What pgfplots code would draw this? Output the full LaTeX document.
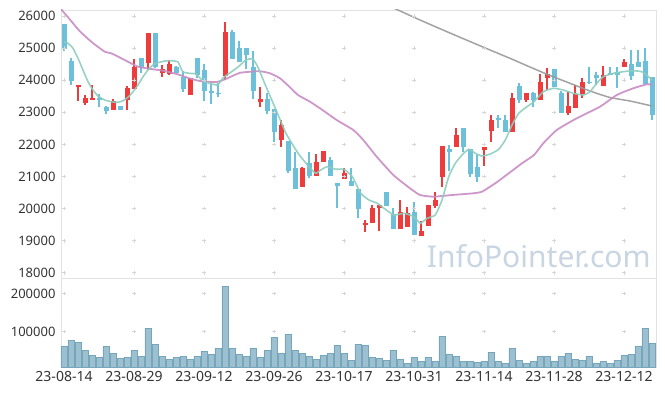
\documentclass[border=0pt]{standalone}
\usepackage{fontspec}
\setmainfont{Noto Sans}
\usepackage{pgfplots}
\usepackage{pgfplotstable}
\pgfplotsset{compat=1.18}
\definecolor{upc}{HTML}{EE3B3B}
\definecolor{dnc}{HTML}{6CC0DA}
\definecolor{ma5}{HTML}{8CCDBE}
\definecolor{ma20}{HTML}{C88CC3}
\definecolor{ma60}{HTML}{999999}
\definecolor{volf}{HTML}{9DC0D0}
\definecolor{vole}{HTML}{76A6BB}
\definecolor{gridc}{HTML}{E2E2E2}
\definecolor{plusc}{HTML}{D6D6D6}
\definecolor{labc}{HTML}{333333}
\definecolor{wm}{HTML}{C8D5E2}

% up candles (close >= open)
\pgfplotstableread{
i o h l c
2 23798 23841 23352 23841
3 23299 23549 23237 23446
4 23393 23841 23393 23446
7 23081 23405 23081 23362
9 23393 23819 23063 23748
10 23736 24651 23736 24402
12 24545 25461 24318 25461
14 24234 24464 24090 24349
15 24184 24629 24150 24514
18 23549 24078 23549 24078
23 24140 25813 24006 25502
28 23312 23798 23175 23415
31 22147 22760 21910 22595
34 20683 21306 20683 21256
36 21025 21692 21025 21443
37 21443 21795 21443 21795
40 20932 21256 20932 21110
43 19499 19645 19272 19543
44 19543 20113 19543 20010
45 20010 20110 19303 20103
48 19356 20268 19356 19885
49 19437 20041 19437 19854
51 19156 19614 19156 19303
52 19468 20113 19468 20113
53 20081 20527 20010 20268
54 20994 21950 20683 21950
56 21929 22502 21929 22293
60 21826 21910 21328 21910
61 22427 22916 22085 22760
64 22396 23592 22396 23436
66 23383 23592 23330 23592
68 23383 24184 23383 23953
69 24078 24371 23695 24193
72 22988 23642 22916 23196
73 23144 23851 23144 23561
74 23561 24078 23436 23935
77 23829 24443 23829 24162
80 24402 24661 24402 24558
}\up

% down candles (close < open)
\pgfplotstableread{
i o h l c
0 25751 25751 24910 24972
1 24598 24682 23851 23985
5 23446 23561 23175 23393
6 23165 23187 22938 23050
8 23187 23210 23060 23081
11 24682 24682 24215 24402
13 25461 25461 24380 24400
16 24421 24450 24234 24234
17 24109 24287 23642 23726
19 24692 24692 24059 24162
20 24318 24505 23352 23664
21 23664 23882 23249 23592
22 23600 23904 23467 23590
24 25502 25564 24661 24661
25 25003 25231 24576 24576
26 25003 25003 24340 24795
27 24411 24900 23405 23673
29 23415 23592 22947 23050
30 23103 23103 22085 22396
32 22106 22106 21100 21181
33 21265 21773 20620 20620
35 21412 21773 20944 21025
38 21514 21598 21025 21025
39 20798 20798 20010 20695
41 20860 21275 20695 20695
42 20602 20602 19698 19979
46 20518 20518 20080 20080
47 19842 20010 19356 19356
50 19894 20215 19178 19178
55 21857 21982 21172 21754
57 22502 22502 21773 21929
58 21847 21847 20994 21069
59 21287 21670 20838 20994
62 22832 22916 22502 22751
63 22760 22916 22396 22396
65 23820 23904 23299 23383
67 23592 23642 23180 23383
70 24349 24349 23798 23798
71 23611 23664 22988 22988
75 23950 24402 23882 23930
76 24162 24265 23851 24078
78 24215 24402 24150 24184
79 24246 24402 23748 24162
81 24505 24941 24006 24140
82 24558 24941 24402 24402
83 24598 24994 23873 23873
84 24090 24090 22760 22916
}\down

\pgfplotstableread{
i v
0 25199
0.57 25150
1.29 24994
2 24682
2.71 24318
3.43 23953
4.14 23695
4.86 23508
5.81 23383
6.76 23330
7.71 23312
8.43 23362
9.14 23467
9.86 23642
10.57 23851
11.29 24109
12 24318
12.71 24474
13.43 24545
14.39 24598
15.33 24608
16.29 24567
16.96 24265
17.9 24215
18.86 24193
19.81 23985
20.76 23904
21.96 23851
22.67 24059
23.61 24215
24.81 24402
26 24629
26.96 24661
27.67 24421
28.86 23798
30.29 23072
31.71 22346
33.14 21826
33.81 21617
35 21306
35.96 21100
36.67 21203
37.61 21306
38.81 21225
40 21225
41.19 20994
42.39 20477
43.57 20268
44.76 20166
45.71 20010
47.14 19801
48.57 19854
50 19748
50.9 19542
51.86 19698
53.04 19801
54 20268
54.96 20994
55.9 21412
56.86 21670
57.81 21848
58.76 21723
59.71 21639
60.9 21701
62.1 21848
63.04 22137
64 22605
64.96 22969
66.14 23175
67.14 23330
68.47 23642
69.9 23748
71.33 23695
72.76 23592
74.19 23539
75.14 23642
76.1 23904
77.04 24109
78.47 24215
79.9 24265
81.33 24296
82.53 24265
83.24 24162
83.96 24006
}\maA

\pgfplotstableread{
i v
-0.43 26215
0.5 25980
2.2 25540
3.9 25199
5.81 24888
6.76 24838
8.67 24629
10.57 24421
12.47 24349
14.39 24287
16.29 24180
17.9 24059
19.43 23975
21.71 23940
23.14 24040
25.14 24230
27.9 24280
29.43 24215
30.86 24059
32.19 23798
33.43 23539
35.14 23330
36.57 23125
38.96 22760
41.33 22449
42.76 22137
44.67 21617
47.04 21047
49.43 20633
50.86 20424
52.76 20371
55.43 20424
58.47 20477
59.71 20527
61.61 20789
63.53 21100
65.43 21412
67.14 21670
68.47 22035
70.39 22449
73.24 22813
76.57 23175
78.96 23539
81.33 23748
83.24 23872
84 23860
}\maB

\pgfplotstableread{
i v
45.86 26374
47.71 26187
50.86 25875
55.14 25470
60.86 24941
63.71 24682
66.57 24411
69.43 24147
72.29 23904
75.14 23664
78 23461
80.86 23352
84 23197
}\maC

\pgfplotstableread{
i v
0 61900
1 77500
2 72300
3 51400
4 38400
5 33200
6 61900
7 43600
8 30500
9 33200
10 51400
11 35800
12 108900
13 67100
14 35800
15 27900
16 33200
17 35800
18 27900
19 35800
20 48800
21 41000
22 56700
23 218500
24 56700
25 41000
26 35800
27 56700
28 33200
29 51400
30 85400
31 43600
32 93200
33 51400
34 43600
35 35800
36 27900
37 38400
38 43600
39 64500
40 43600
41 25300
42 67100
43 64500
44 33200
45 30500
46 25300
47 51400
48 27900
49 17500
50 33200
51 22700
52 33200
53 22700
54 88000
55 41000
56 35800
57 22700
58 22700
59 20100
60 22700
61 46200
62 22700
63 17500
64 56700
65 25300
66 17500
67 22700
68 35800
69 35800
70 22700
71 35800
72 43600
73 27900
74 25300
75 35800
76 17500
77 22700
78 17500
79 25300
80 38400
81 41000
82 61900
83 108900
84 69700
}\vol

\begin{document}
\begin{tikzpicture}
\useasboundingbox (-61pt,-118pt) rectangle (604pt,278pt);
\begin{axis}[
  at={(0pt,0pt)}, anchor=south west, scale only axis,
  width=595pt, height=268pt,
  xmin=-0.43, xmax=84.57, ymin=17839, ymax=26187,
  xtick=\empty,
  scaled y ticks=false,
  ytick={18000,19000,20000,21000,22000,23000,24000,25000,26000},
  yticklabels={18000,19000,20000,21000,22000,23000,24000,25000,26000},
  yticklabel style={font=\fontsize{13}{15}\selectfont, text=labc, xshift=-2pt},
  major tick length=0pt,
  axis line style={draw=gridc, line width=0.8pt},
]
\node[text=wm, font=\fontsize{30}{36}\selectfont] at (rel axis cs:0.803,0.082) {InfoPointer.com};
\pgfplotsinvokeforeach{0,10,20,30,40,50,60,70,80}{
  \addplot[forget plot, only marks, mark=+, mark size=1.8pt, plusc, line width=0.7pt]
    coordinates {(#1,18000)(#1,19000)(#1,20000)(#1,21000)(#1,22000)(#1,23000)(#1,24000)(#1,25000)(#1,26000)};
}
% wicks
\addplot[forget plot, draw=none, mark=none, error bars/.cd, y dir=both, y explicit, error mark=none,
  error bar style={draw=upc, line width=1.3pt}]
  table[x=i, y expr={(\thisrow{h}+\thisrow{l})/2}, y error expr={(\thisrow{h}-\thisrow{l})/2}] {\up};
\addplot[forget plot, draw=none, mark=none, error bars/.cd, y dir=both, y explicit, error mark=none,
  error bar style={draw=dnc, line width=1.3pt}]
  table[x=i, y expr={(\thisrow{h}+\thisrow{l})/2}, y error expr={(\thisrow{h}-\thisrow{l})/2}] {\down};
% bodies
\addplot[forget plot, draw=none, mark=none, error bars/.cd, y dir=both, y explicit, error mark=none,
  error bar style={draw=upc, line width=5pt}]
  table[x=i, y expr={(\thisrow{o}+\thisrow{c})/2}, y error expr={max(abs(\thisrow{c}-\thisrow{o})/2,14)}] {\up};
\addplot[forget plot, draw=none, mark=none, error bars/.cd, y dir=both, y explicit, error mark=none,
  error bar style={draw=dnc, line width=5pt}]
  table[x=i, y expr={(\thisrow{o}+\thisrow{c})/2}, y error expr={max(abs(\thisrow{c}-\thisrow{o})/2,14)}] {\down};
% moving averages
\addplot[ma60, line width=1.5pt, opacity=0.9, mark=none, smooth, tension=0.3] table[x=i,y=v] {\maC};
\addplot[ma20, line width=1.8pt, opacity=0.9, mark=none, smooth, tension=0.3] table[x=i,y=v] {\maB};
\addplot[ma5, line width=1.6pt, opacity=0.9, mark=none, smooth, tension=0.3] table[x=i,y=v] {\maA};
\end{axis}

\begin{axis}[
  at={(0pt,0pt)}, anchor=north west, scale only axis,
  width=595pt, height=89.5pt,
  xmin=-0.43, xmax=84.57, ymin=6000, ymax=240209,
  scaled y ticks=false,
  xtick={0,10,20,30,40,50,60,70,80},
  xticklabels={23-08-14,23-08-29,23-09-12,23-09-26,23-10-17,23-10-31,23-11-14,23-11-28,23-12-12},
  xticklabel style={font=\fontsize{14}{16}\selectfont, text=labc},
  ytick={100000,200000},
  yticklabels={100000,200000},
  yticklabel style={font=\fontsize{13}{15}\selectfont, text=labc, xshift=-2pt},
  major tick length=0pt,
  axis line style={draw=gridc, line width=0.8pt},
]
\pgfplotsinvokeforeach{0,10,20,30,40,50,60,70,80}{
  \addplot[forget plot, only marks, mark=+, mark size=1.8pt, plusc, line width=0.7pt]
    coordinates {(#1,100000)(#1,200000)};
}
\addplot[ybar, bar width=6.2pt, fill=volf, draw=vole, line width=0.7pt] table[x=i,y=v] {\vol};
\end{axis}
\end{tikzpicture}
\end{document}
